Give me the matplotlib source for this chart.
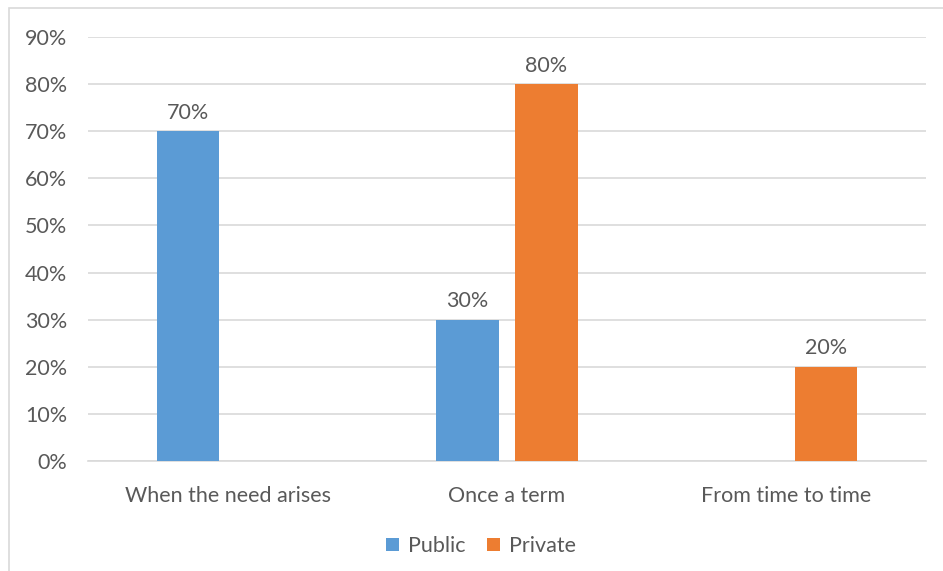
import matplotlib
matplotlib.use('Agg')
import matplotlib.pyplot as plt
import numpy as np
from matplotlib.patches import Rectangle

categories = ['When the need arises', 'Once a term', 'From time to time']
public = [0.70, 0.30, 0.0]
private = [0.0, 0.80, 0.20]
series_names = ['Public', 'Private']
yticks = [0.0, 0.1, 0.2, 0.3, 0.4, 0.5, 0.6, 0.7, 0.8, 0.9]

BLUE = '#5B9BD5'
ORANGE = '#ED7D31'
TEXT = '#595959'
GRID = '#D9D9D9'
FS = 15.5

plt.rcParams['font.family'] = ['Lato', 'DejaVu Sans']

fig = plt.figure(figsize=(9.43, 5.71), dpi=100)
fig.patches.append(Rectangle((9 / 943, -0.1), 1.2, 1 - 8 / 571 + 0.1,
                             transform=fig.transFigure, fill=False,
                             edgecolor=GRID, linewidth=1.2))
ax = fig.add_axes([88 / 943, 1 - 461 / 571, (926 - 88) / 943, (461 - 37) / 571])

x = np.arange(len(categories))
width = 0.222
off = 0.1414

b1 = ax.bar(x - off, public, width, color=BLUE, label=series_names[0], zorder=3)
b2 = ax.bar(x + off, private, width, color=ORANGE, label=series_names[1], zorder=3)

# value labels above non-zero bars
for bars, vals in ((b1, public), (b2, private)):
    for rect, v in zip(bars, vals):
        if v > 0:
            ax.text(rect.get_x() + rect.get_width() / 2, v + 0.018, f'{v:.0%}',
                    ha='center', va='bottom', fontsize=FS, color=TEXT)

ax.set_xlim(-0.5, len(categories) - 0.5)
ax.set_ylim(0, 0.9)
ax.set_yticks(yticks)
ax.set_yticklabels([f'{t:.0%}' for t in yticks])
ax.set_xticks(x)
ax.set_xticklabels(categories)
ax.tick_params(axis='both', length=0, labelsize=FS, labelcolor=TEXT)
ax.tick_params(axis='x', pad=18)
ax.tick_params(axis='y', pad=15)

ax.yaxis.grid(True, color=GRID, linewidth=1.2, zorder=0)
for s in ['top', 'right', 'left']:
    ax.spines[s].set_visible(False)
ax.spines['bottom'].set_color(GRID)
ax.spines['bottom'].set_linewidth(1.2)

fig.legend(loc='center', bbox_to_anchor=(481 / 943, 1 - 546 / 571), ncol=2,
           frameon=False, fontsize=FS, labelcolor=TEXT, handlelength=0.6,
           handleheight=0.6, handletextpad=0.4, columnspacing=1.0)

fig.savefig('out.png', dpi=100)
